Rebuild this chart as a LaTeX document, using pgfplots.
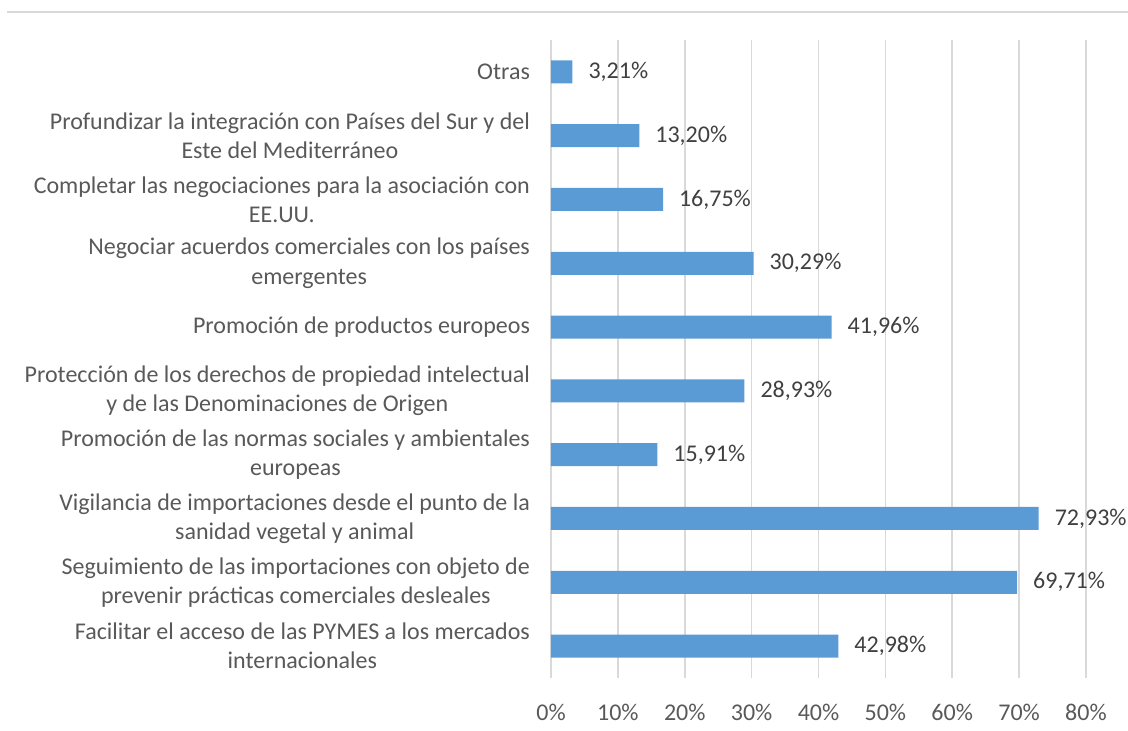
\documentclass[border=0pt]{standalone}
\usepackage{fontspec}
\setmainfont{Carlito}
\usepackage{pgfplots}
\pgfplotsset{compat=1.18}
\definecolor{barblue}{HTML}{5B9BD5}
\definecolor{gridgray}{HTML}{D9D9D9}
\definecolor{labgray}{HTML}{595959}
\definecolor{valgray}{HTML}{404040}

\begin{document}
\begin{tikzpicture}
\begin{axis}[
  at={(0,0)}, anchor=south west,
  scale only axis,
  width=267.5pt, height=319pt,
  xbar, bar width=11.5pt,
  xmin=0, xmax=80, ymin=-0.5, ymax=9.5,
  xtick={0,10,...,80},
  xticklabel={\pgfmathprintnumber{\tick}\%},
  /pgf/number format/assume math mode=true,
  ytick={0,...,9},
  yticklabels={
    {Facilitar el acceso de las PYMES a los mercados\\internacionales},
    {Seguimiento de las importaciones con objeto de\\prevenir prácticas comerciales desleales},
    {Vigilancia de importaciones desde el punto de la\\sanidad vegetal y animal},
    {Promoción de las normas sociales y ambientales\\europeas},
    {Protección de los derechos de propiedad intelectual\\y de las Denominaciones de Origen},
    {Promoción de productos europeos},
    {Negociar acuerdos comerciales con los países\\emergentes},
    {Completar las negociaciones para la asociación con\\EE.UU.},
    {Profundizar la integración con Países del Sur y del\\Este del Mediterráneo},
    {Otras}},
  major tick length=0pt,
  axis line style={draw=none},
  xmajorgrids=true,
  grid style={gridgray, line width=0.85pt},
  tick label style={font=\fontsize{12}{14.6}\selectfont, text=labgray},
  yticklabel style={align=center, xshift=-7pt},
  xticklabel style={yshift=-9.5pt},
  nodes near coords={\pgfmathprintnumber[fixed,fixed zerofill,precision=2,use comma]{\pgfplotspointmeta}\%},
  nodes near coords style={anchor=west, xshift=4.5pt, font=\fontsize{12}{14.6}\selectfont, text=valgray},
  clip=false
]
\addplot[fill=barblue, draw=none] coordinates {
  (42.98,0) (69.71,1) (72.93,2) (15.91,3) (28.93,4)
  (41.96,5) (30.29,6) (16.75,7) (13.20,8) (3.21,9)
};
\end{axis}
\draw[gridgray, line width=1pt] (-272pt,333pt) -- (288.5pt,333pt);
\pgfresetboundingbox
\path[use as bounding box] (-275.5pt,-26.5pt) rectangle (288.5pt,339pt);
\end{tikzpicture}
\end{document}
